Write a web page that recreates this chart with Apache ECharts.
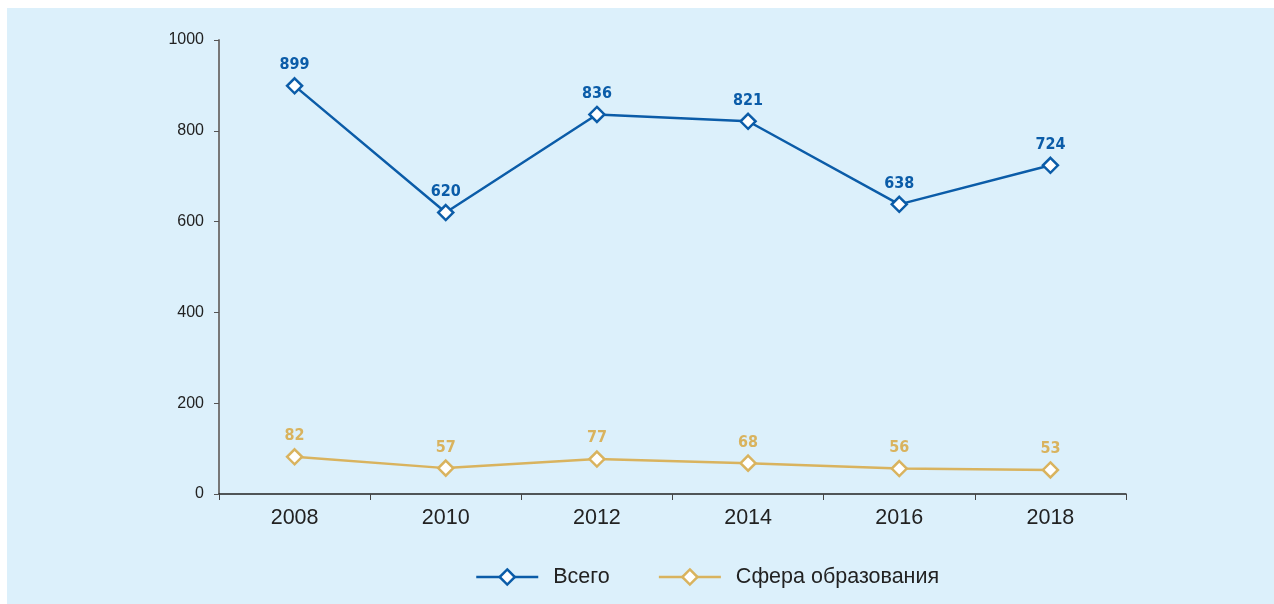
<!DOCTYPE html>
<html>
<head>
<meta charset="utf-8">
<script src="https://cdn.jsdelivr.net/npm/echarts@6/dist/echarts.min.js"></script>
<style>
html,body{margin:0;padding:0;background:#ffffff;}
#wrap{position:absolute;left:7px;top:8px;width:1267px;height:596px;background:#dcf0fb;}
#chart{position:absolute;left:0;top:0;width:1274px;height:604px;}
</style>
</head>
<body>
<div id="wrap"></div>
<div id="chart"></div>
<script>
const categories = ['2008', '2010', '2012', '2014', '2016', '2018'];
const totalValues = [899, 620, 836, 821, 638, 724];
const eduValues = [82, 57, 77, 68, 56, 53];
const seriesNames = ['Всего', 'Сфера образования'];
const yTicks = [0, 200, 400, 600, 800, 1000];

const blue = '#0b5ca8';
const gold = '#d9b35e';
const labelFont = '"DejaVu Sans Condensed", "Liberation Sans Narrow", sans-serif';
const textFont = '"Liberation Sans", Arial, sans-serif';

const chart = echarts.init(document.getElementById('chart'), null, {renderer: 'canvas'});

function lineSeries(name, data, color) {
  return {
    name: name,
    type: 'line',
    data: data,
    symbol: 'diamond',
    symbolSize: 15,
    itemStyle: {color: '#ffffff', borderColor: color, borderWidth: 2.5},
    lineStyle: {color: color, width: 2.5},
    label: {
      show: true,
      position: 'top',
      distance: 4,
      color: color,
      fontFamily: labelFont,
      fontWeight: 'bold',
      fontSize: 16
    },
    emphasis: {disabled: true},
    animation: false
  };
}

chart.setOption({
  backgroundColor: 'transparent',
  animation: false,
  grid: {left: 219, right: 148, top: 40, bottom: 110, containLabel: false},
  legend: {
    data: seriesNames,
    bottom: 11,
    left: 470,
    itemWidth: 62,
    itemHeight: 19,
    itemGap: 48,
    itemStyle: {borderWidth: 2.5},
    lineStyle: {width: 2.5},
    textStyle: {color: '#222', fontSize: 21.5, fontFamily: textFont, padding: [0, 0, 0, 10]}
  },
  xAxis: {
    type: 'category',
    data: categories,
    boundaryGap: true,
    axisLine: {lineStyle: {color: '#222', width: 1.5}},
    axisTick: {show: true, alignWithLabel: false, length: 6, lineStyle: {color: '#444', width: 1}},
    axisLabel: {color: '#222', fontSize: 21.5, margin: 13, fontFamily: textFont},
    splitLine: {show: false}
  },
  yAxis: {
    type: 'value',
    min: 0,
    max: 1000,
    interval: 200,
    axisLine: {show: true, lineStyle: {color: '#777', width: 2}},
    axisTick: {show: true, length: 5, lineStyle: {color: '#555', width: 1}},
    axisLabel: {color: '#222', fontSize: 16, margin: 15, fontFamily: textFont,
      formatter: v => (yTicks.indexOf(v) >= 0 ? String(v) : '')},
    splitLine: {show: false}
  },
  series: [
    lineSeries(seriesNames[0], totalValues, blue),
    lineSeries(seriesNames[1], eduValues, gold)
  ]
});
</script>
</body>
</html>
